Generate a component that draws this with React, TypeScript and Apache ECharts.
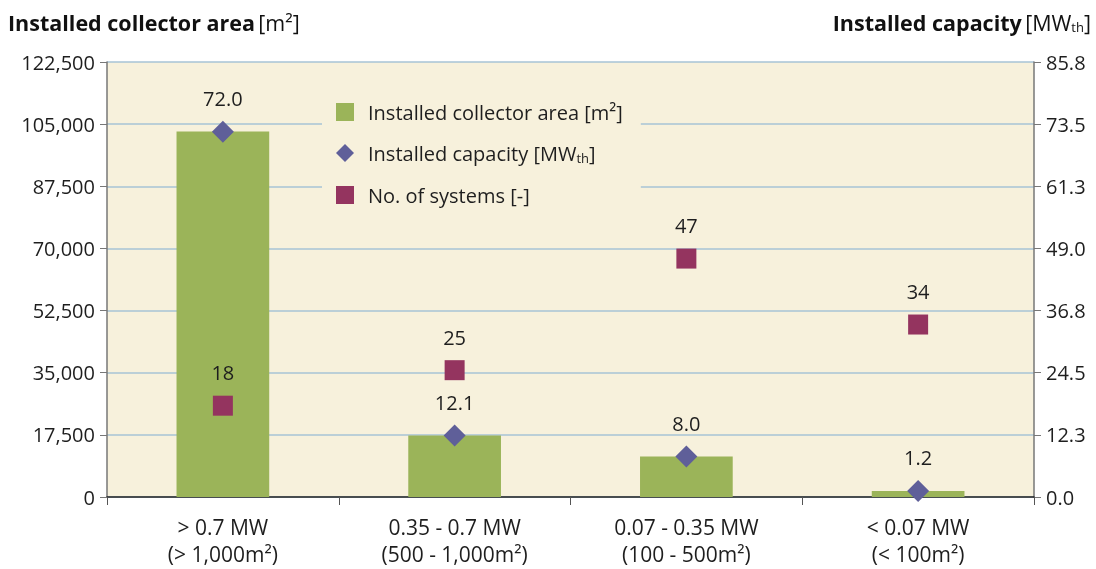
import React, { useEffect, useRef } from "react";
import * as echarts from "echarts";

const categories = [
  "> 0.7 MW\n(> 1,000m²)",
  "0.35 - 0.7 MW\n(500 - 1,000m²)",
  "0.07 - 0.35 MW\n(100 - 500m²)",
  "< 0.07 MW\n(< 100m²)",
];
const collectorArea = [102900, 17300, 11400, 1700];
const capacity = [72.0, 12.1, 8.0, 1.2];
const systems = [18, 25, 47, 34];

const FONT = "'Open Sans', 'Noto Sans', sans-serif";
const TXT = "#1e1e1e";

export default function App() {
  const ref = useRef<HTMLDivElement>(null);
  useEffect(() => {
    const chart = echarts.init(ref.current!, null, { renderer: "svg" });
    chart.setOption({
      animation: false,
      textStyle: { fontFamily: FONT },
      grid: {
        left: 107,
        right: 62,
        top: 62,
        bottom: 72,
        show: true,
        backgroundColor: "#f7f1dc",
        borderWidth: 0,
        containLabel: false,
        outerBoundsMode: "none",
      },
      legend: {
        orient: "vertical",
        left: 322,
        top: 94,
        itemWidth: 18,
        itemHeight: 18,
        itemGap: 21,
        padding: [8, 18, 8, 14],
        backgroundColor: "#f7f1dc",
        textStyle: {
          fontSize: 20,
          color: TXT,
          fontFamily: FONT,
          padding: [0, 0, 0, 9],
          rich: {
            sub: { fontSize: 13, color: TXT, verticalAlign: "bottom", padding: [9, 0, 0, 0] },
          },
        },
        formatter: (name: string) =>
          name === "Installed capacity [MWth]" ? "Installed capacity [MW{sub|th}]" : name,
        data: [
          { name: "Installed collector area [m²]", icon: "rect" },
          { name: "Installed capacity [MWth]", icon: "diamond" },
          { name: "No. of systems [-]", icon: "rect" },
        ],
      },
      xAxis: {
        type: "category",
        data: categories,
        axisLine: { lineStyle: { color: "#222", width: 1.5 } },
        axisTick: { show: true, length: 8, lineStyle: { color: "#555" } },
        axisLabel: { fontSize: 21, color: TXT, lineHeight: 27, margin: 16, fontFamily: FONT },
      },
      yAxis: [
        {
          type: "value",
          min: 0,
          max: 122500,
          interval: 17500,
          axisLine: { show: true, lineStyle: { color: "#777", width: 1.5 } },
          axisTick: { show: true, length: 7, lineStyle: { color: "#777" } },
          axisLabel: {
            fontSize: 20,
            color: TXT,
            margin: 12,
            fontFamily: FONT,
            formatter: (v: number) => v.toLocaleString("en-US"),
          },
          splitLine: { show: true, lineStyle: { color: "#a7c3d6", width: 1.5 } },
        },
        {
          type: "value",
          min: 0,
          max: 85.75,
          interval: 12.25,
          axisLine: { show: true, lineStyle: { color: "#777", width: 1.5 } },
          axisTick: { show: true, length: 7, lineStyle: { color: "#777" } },
          axisLabel: {
            fontSize: 20,
            color: TXT,
            margin: 12,
            fontFamily: FONT,
            formatter: (v: number) => v.toFixed(1),
          },
          splitLine: { show: false },
        },
      ],
      series: [
        {
          name: "Installed collector area [m²]",
          type: "bar",
          data: collectorArea,
          barWidth: "40%",
          itemStyle: { color: "#9bb459" },
          yAxisIndex: 0,
          z: 2,
        },
        {
          name: "Installed capacity [MWth]",
          type: "scatter",
          data: capacity,
          yAxisIndex: 1,
          symbol: "diamond",
          symbolSize: 22,
          itemStyle: { color: "#5f5f99", opacity: 1 },
          label: {
            show: true,
            position: "top",
            distance: 12,
            fontSize: 20,
            color: TXT,
            fontFamily: FONT,
            formatter: (p: any) => Number(p.value).toFixed(1),
          },
          z: 4,
        },
        {
          name: "No. of systems [-]",
          type: "scatter",
          data: systems,
          yAxisIndex: 1,
          symbol: "rect",
          symbolSize: 20,
          itemStyle: { color: "#94345f", opacity: 1 },
          label: {
            show: true,
            position: "top",
            distance: 13,
            fontSize: 20,
            color: TXT,
            fontFamily: FONT,
          },
          z: 4,
        },
      ],
      graphic: [
        {
          type: "text",
          left: 8,
          top: 11,
          style: {
            text: "{b|Installed collector area} {n|[m²]}",
            rich: {
              b: { fontSize: 21.5, fontWeight: "bold", fill: "#111", fontFamily: FONT },
              n: { fontSize: 21.5, fill: "#111", fontFamily: FONT },
            },
          },
        },
        {
          type: "text",
          right: 5,
          top: 11,
          style: {
            text: "{b|Installed capacity} {n|[MW}{s|th}{n|]}",
            rich: {
              b: { fontSize: 21.5, fontWeight: "bold", fill: "#111", fontFamily: FONT },
              n: { fontSize: 21.5, fill: "#111", fontFamily: FONT },
              s: { fontSize: 13, fill: "#111", fontFamily: FONT, padding: [10, 0, 0, 0] },
            },
          },
        },
      ],
    });
    return () => chart.dispose();
  }, []);
  return (
    <div
      ref={ref}
      style={{ position: "fixed", left: 0, top: 0, width: 1096, height: 569 }}
    />
  );
}
